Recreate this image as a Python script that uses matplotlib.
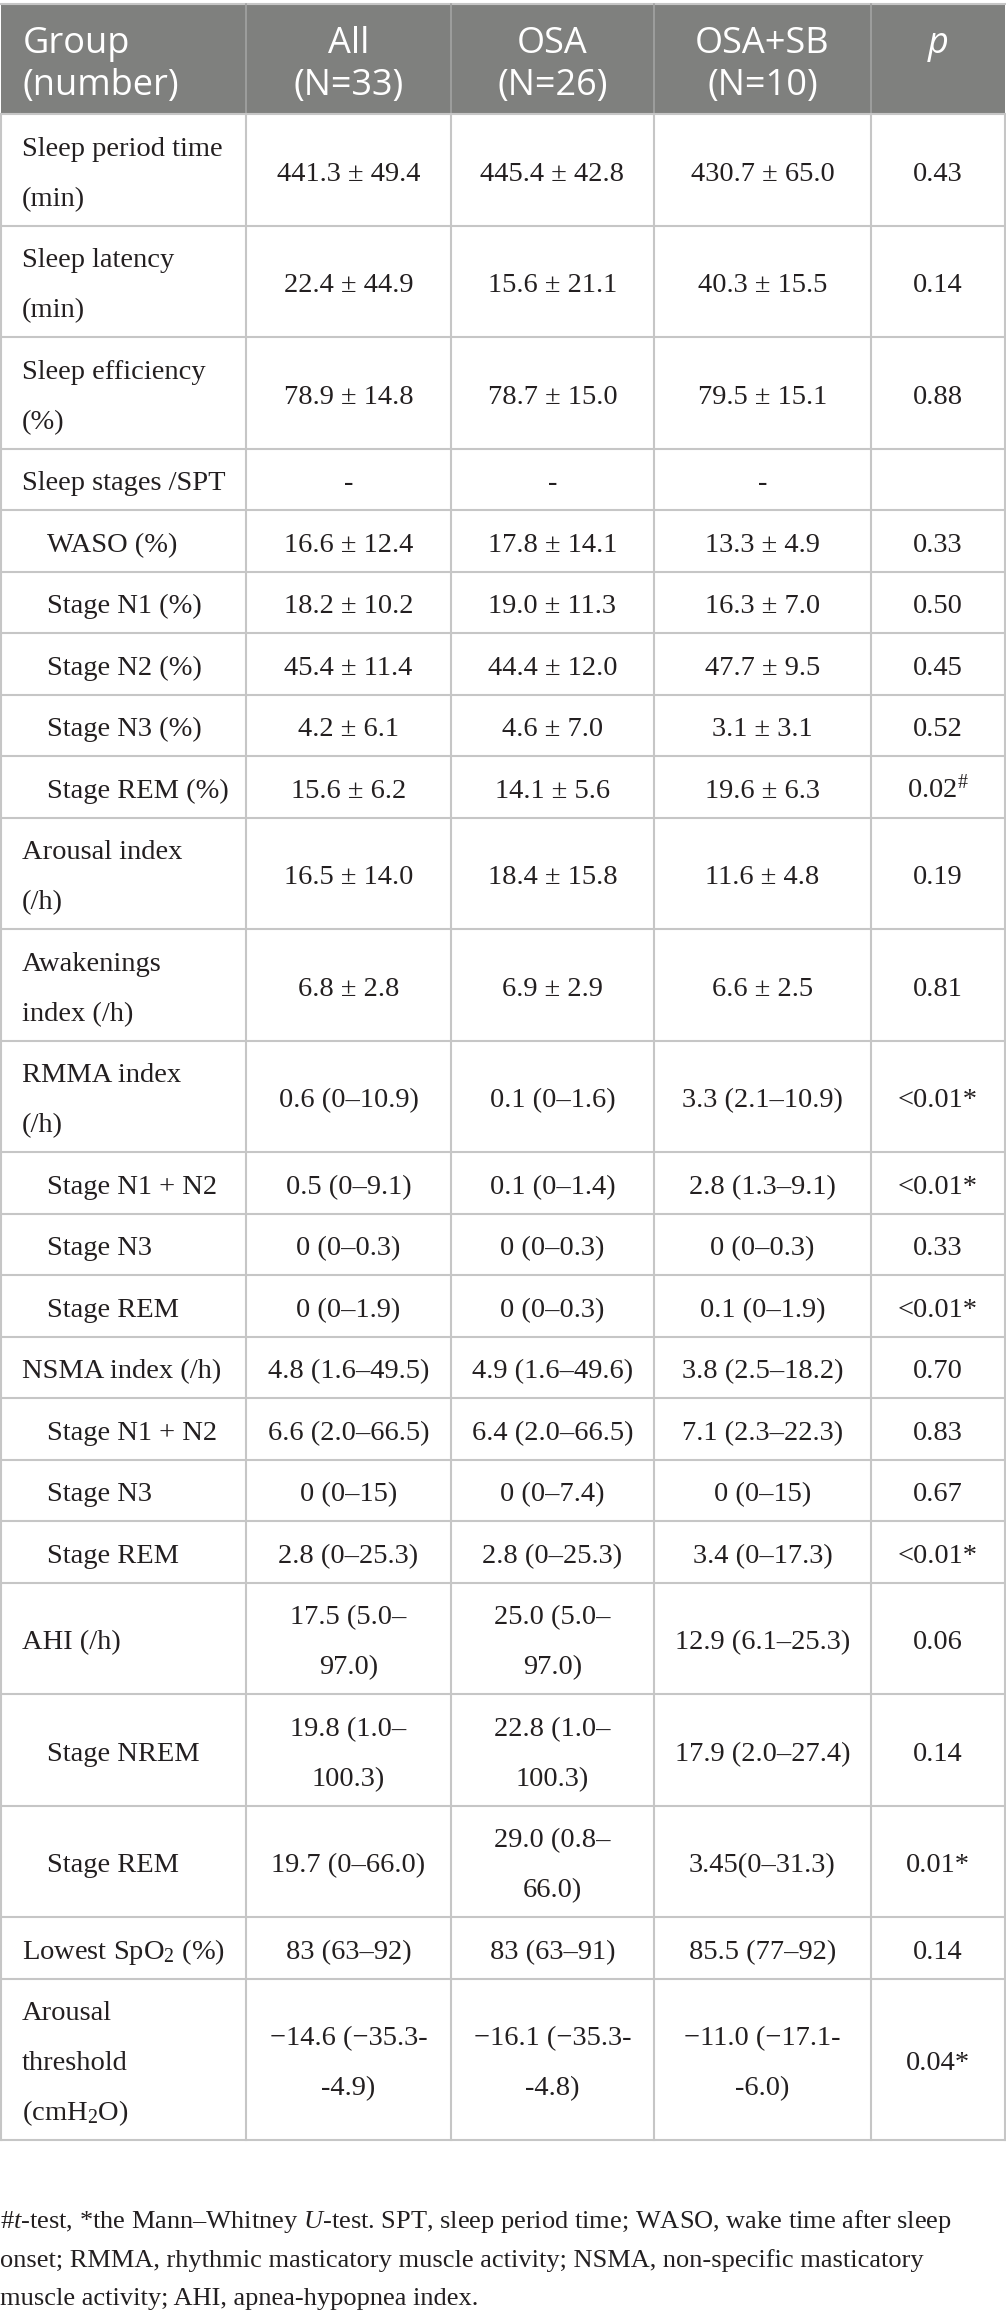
import matplotlib
matplotlib.use("Agg")
import matplotlib.pyplot as plt
import numpy as np

plt.rcParams['mathtext.fontset'] = 'custom'
plt.rcParams['mathtext.rm'] = 'Liberation Serif'
plt.rcParams['mathtext.it'] = 'Liberation Serif:italic'
plt.rcParams['mathtext.bf'] = 'Liberation Serif:bold'

# Table contents
header_group = ["Group", "(number)"]
header_cols = [["All", "(N=33)"], ["OSA", "(N=26)"], ["OSA+SB", "(N=10)"]]

labels = [
    "Sleep period time\n(min)", "Sleep latency\n(min)", "Sleep efficiency\n(%)",
    "Sleep stages /SPT", "WASO (%)", "Stage N1 (%)", "Stage N2 (%)", "Stage N3 (%)",
    "Stage REM (%)", "Arousal index\n(/h)", "Awakenings\nindex (/h)", "RMMA index\n(/h)",
    "Stage N1 + N2", "Stage N3", "Stage REM", "NSMA index (/h)", "Stage N1 + N2",
    "Stage N3", "Stage REM", "AHI (/h)", "Stage NREM", "Stage REM",
    "Lowest SpO$_2$ (%)", "Arousal\nthreshold\n(cmH$_2$O)",
]
indented = [0, 0, 0, 0, 1, 1, 1, 1, 1, 0, 0, 0, 1, 1, 1, 0, 1, 1, 1, 0, 1, 1, 0, 0]

all_vals = [
    "441.3 ± 49.4", "22.4 ± 44.9", "78.9 ± 14.8", "-", "16.6 ± 12.4", "18.2 ± 10.2",
    "45.4 ± 11.4", "4.2 ± 6.1", "15.6 ± 6.2", "16.5 ± 14.0", "6.8 ± 2.8",
    "0.6 (0–10.9)", "0.5 (0–9.1)", "0 (0–0.3)", "0 (0–1.9)", "4.8 (1.6–49.5)",
    "6.6 (2.0–66.5)", "0 (0–15)", "2.8 (0–25.3)", "17.5 (5.0–\n97.0)",
    "19.8 (1.0–\n100.3)", "19.7 (0–66.0)", "83 (63–92)", "−14.6 (−35.3-\n-4.9)",
]
osa_vals = [
    "445.4 ± 42.8", "15.6 ± 21.1", "78.7 ± 15.0", "-", "17.8 ± 14.1", "19.0 ± 11.3",
    "44.4 ± 12.0", "4.6 ± 7.0", "14.1 ± 5.6", "18.4 ± 15.8", "6.9 ± 2.9",
    "0.1 (0–1.6)", "0.1 (0–1.4)", "0 (0–0.3)", "0 (0–0.3)", "4.9 (1.6–49.6)",
    "6.4 (2.0–66.5)", "0 (0–7.4)", "2.8 (0–25.3)", "25.0 (5.0–\n97.0)",
    "22.8 (1.0–\n100.3)", "29.0 (0.8–\n66.0)", "83 (63–91)", "−16.1 (−35.3-\n-4.8)",
]
sb_vals = [
    "430.7 ± 65.0", "40.3 ± 15.5", "79.5 ± 15.1", "-", "13.3 ± 4.9", "16.3 ± 7.0",
    "47.7 ± 9.5", "3.1 ± 3.1", "19.6 ± 6.3", "11.6 ± 4.8", "6.6 ± 2.5",
    "3.3 (2.1–10.9)", "2.8 (1.3–9.1)", "0 (0–0.3)", "0.1 (0–1.9)", "3.8 (2.5–18.2)",
    "7.1 (2.3–22.3)", "0 (0–15)", "3.4 (0–17.3)", "12.9 (6.1–25.3)",
    "17.9 (2.0–27.4)", "3.45(0–31.3)", "85.5 (77–92)", "−11.0 (−17.1-\n-6.0)",
]
p_vals = [
    "0.43", "0.14", "0.88", "", "0.33", "0.50", "0.45", "0.52", "0.02$^{\\#}$",
    "0.19", "0.81", "<0.01*", "<0.01*", "0.33", "<0.01*", "0.70", "0.83", "0.67",
    "<0.01*", "0.06", "0.14", "0.01*", "0.14", "0.04*",
]

footnote = [
    "#$\\mathit{t}$-test, *the Mann–Whitney $\\mathit{U}$-test. SPT, sleep period time; WASO, wake time after sleep",
    "onset; RMMA, rhythmic masticatory muscle activity; NSMA, non-specific masticatory",
    "muscle activity; AHI, apnea-hypopnea index.",
]

# layout (pixels)
W, H = 1006, 2317
col_x = [1, 246, 451, 654, 871, 1005]
head_top, head_bot = 4, 114
line_h, single_h = 50, 61.5
grid_c = '#c6c6c6'
head_c = '#7f807e'
txt_c = '#231f20'
serif = ['Liberation Serif', 'DejaVu Serif']
body_fs = 20.5

fig = plt.figure(figsize=(W / 100, H / 100), dpi=100)
ax = fig.add_axes([0, 0, 1, 1])
ax.set_xlim(0, W)
ax.set_ylim(H, 0)
ax.axis('off')

# header
ax.add_patch(plt.Rectangle((col_x[0], head_top), col_x[-1] - col_x[0], head_bot - head_top,
                           facecolor=head_c, edgecolor='none', zorder=1))
ax.plot([col_x[0], col_x[-1]], [head_top, head_top], color=grid_c, lw=1.5, zorder=2)
for x in col_x[1:-1]:
    ax.plot([x, x], [head_top, head_bot], color='#a3a3a3', lw=1.2, zorder=2)

hfont = dict(family=['Open Sans', 'DejaVu Sans'], fontsize=26, color='white')
hb = [53, 95]
for k, s in enumerate(header_group):
    ax.text(23, hb[k], s, ha='left', va='baseline', **hfont)
for c, lines in enumerate(header_cols):
    xc = (col_x[c + 1] + col_x[c + 2]) / 2
    for k, s in enumerate(lines):
        ax.text(xc, hb[k], s, ha='center', va='baseline', **hfont)
ax.text((col_x[4] + col_x[5]) / 2, hb[0], "p", ha='center', va='baseline',
        style='italic', **hfont)

# body rows
n_lines = [max(len(v.split("\n")) for v in (labels[i], all_vals[i], osa_vals[i], sb_vals[i]))
           for i in range(len(labels))]
heights = [single_h + line_h * (n - 1) for n in n_lines]
edges = head_bot + np.concatenate([[0], np.cumsum(heights)])


def put_lines(x, yc, s, ha):
    parts = s.split("\n")
    n = len(parts)
    for k, part in enumerate(parts):
        ax.text(x, yc + 11 + (k - (n - 1) / 2) * line_h, part, ha=ha, va='baseline',
                family=serif, fontsize=body_fs, color=txt_c)


for i in range(len(labels)):
    yc = (edges[i] + edges[i + 1]) / 2
    put_lines(22 + 25 * indented[i], yc, labels[i], 'left')
    for c, vals in enumerate([all_vals, osa_vals, sb_vals, p_vals]):
        put_lines((col_x[c + 1] + col_x[c + 2]) / 2, yc, vals[i], 'center')

for y in edges:
    ax.plot([col_x[0], col_x[-1]], [y, y], color=grid_c, lw=1.5, zorder=2)
for x in col_x:
    ax.plot([x, x], [head_bot, edges[-1]], color=grid_c, lw=1.5, zorder=2)

# footnote
for k, s in enumerate(footnote):
    ax.text(0, 2228 + k * 38.5, s, ha='left', va='baseline', family=serif,
            fontsize=19, color=txt_c)

fig.savefig("out.png", dpi=100)
